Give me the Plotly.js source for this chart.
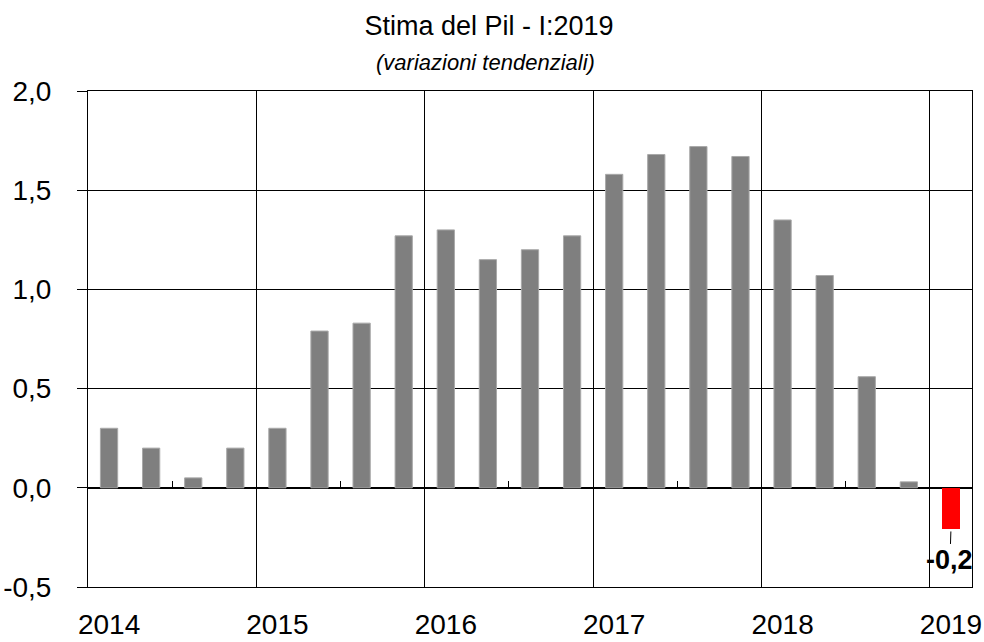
<!DOCTYPE html>
<html>
<head>
<meta charset="utf-8">
<script src="https://cdn.plot.ly/plotly-3.0.1.min.js"></script>
<style>html,body{margin:0;padding:0;background:#fff;}#chart{width:984px;height:642px;}</style>
</head>
<body>
<div id="chart"></div>
<script>
// Quarterly GDP estimate, year-on-year % change (2014-Q1 .. 2019-Q1)
const quarters = ["I-2014","II-2014","III-2014","IV-2014",
                  "I-2015","II-2015","III-2015","IV-2015",
                  "I-2016","II-2016","III-2016","IV-2016",
                  "I-2017","II-2017","III-2017","IV-2017",
                  "I-2018","II-2018","III-2018","IV-2018",
                  "I-2019"];
const values = [0.30, 0.20, 0.05, 0.20,
                0.30, 0.79, 0.83, 1.27,
                1.30, 1.15, 1.20, 1.27,
                1.58, 1.68, 1.72, 1.67,
                1.35, 1.07, 0.56, 0.03,
                -0.21];
const years = ["2014","2015","2016","2017","2018","2019"];
const yTickVals = [-0.5, 0.0, 0.5, 1.0, 1.5, 2.0];
const yTickText = ["-0,5", "0,0", "0,5", "1,0", "1,5", "2,0"];

const FONT = '"Liberation Sans Narrow", "Liberation Sans", Arial, sans-serif';

const n = values.length;
const pos = quarters.map((q, i) => i + 0.5);   // quarter slot centres
const lastIdx = n - 1;

const grey = {
  type: 'bar', x: pos.slice(0, lastIdx), y: values.slice(0, lastIdx),
  hovertext: quarters.slice(0, lastIdx), hoverinfo: 'text+y', textposition: 'none',
  width: 0.41,
  marker: {color: '#7f7f7f', line: {color: '#a9a9a9', width: 1}},
  xaxis: 'x', yaxis: 'y', showlegend: false
};
const red = {
  type: 'bar', x: [pos[lastIdx]], y: [values[lastIdx]],
  hovertext: [quarters[lastIdx]], hoverinfo: 'text+y', textposition: 'none',
  width: 0.41,
  marker: {color: '#ff0000', line: {color: '#ff0000', width: 0}},
  xaxis: 'x2', yaxis: 'y', showlegend: false
};

const yearTickVals = years.map((y, i) => i * 4 + 0.5);
const xRange = [0, n];

const layout = {
  width: 984, height: 642,
  margin: {l: 88, r: 12, t: 91, b: 55},
  paper_bgcolor: '#fff', plot_bgcolor: '#fff',
  separators: ',.',
  font: {family: FONT, color: '#000', size: 26},
  title: {text: 'Stima del Pil - I:2019', font: {family: FONT, size: 27, color: '#000'},
          xref: 'container', yref: 'container',
          x: 0.497, xanchor: 'center', y: 1 - 26/642, yanchor: 'middle'},
  annotations: [
    {xref: 'paper', yref: 'paper', x: 0.450, y: 1.0 + 29/496, xanchor: 'center', yanchor: 'middle',
     text: '<i>(variazioni tendenziali)</i>', showarrow: false,
     font: {family: FONT, size: 22, color: '#000'}},
    {xref: 'x2', yref: 'y', x: pos[lastIdx], y: values[lastIdx],
     text: '<b>' + values[lastIdx].toFixed(1).replace('.', ',') + '</b>',
     showarrow: true, arrowhead: 0, arrowwidth: 1, arrowcolor: '#000',
     ax: -1, ay: 31, standoff: 2,
     font: {family: FONT, size: 27, color: '#000'}}
  ],
  bargap: 0,
  xaxis: {
    range: xRange, fixedrange: true,
    tickmode: 'array', tickvals: yearTickVals, ticktext: years,
    ticks: '', showgrid: false, zeroline: false,
    showline: true, linecolor: '#000', linewidth: 1, mirror: true,
    tickfont: {family: FONT, size: 28, color: '#000'},
    ticklabelstandoff: 12,
    minor: {tickmode: 'linear', tick0: 0, dtick: 4, showgrid: true, gridcolor: '#000', gridwidth: 1, ticks: ''}
  },
  xaxis2: {
    overlaying: 'x', anchor: 'free', position: 0.2, side: 'bottom',
    range: xRange, fixedrange: true,
    tickmode: 'linear', tick0: 0, dtick: 2,
    ticks: 'inside', ticklen: 7, tickwidth: 1, tickcolor: '#000',
    showticklabels: false, showgrid: false, zeroline: false, showline: false
  },
  yaxis: {
    range: [-0.5, 2.0], fixedrange: true,
    tickmode: 'array', tickvals: yTickVals, ticktext: yTickText,
    ticks: 'outside', ticklen: 10, tickwidth: 1, tickcolor: '#000',
    showgrid: true, gridcolor: '#000', gridwidth: 1,
    zeroline: true, zerolinecolor: '#000', zerolinewidth: 1.5,
    showline: true, linecolor: '#000', linewidth: 1, mirror: true,
    tickfont: {family: FONT, size: 28, color: '#000'},
    ticklabelstandoff: 20
  }
};

Plotly.newPlot('chart', [grey, red], layout, {displayModeBar: false, staticPlot: true});
</script>
</body>
</html>
